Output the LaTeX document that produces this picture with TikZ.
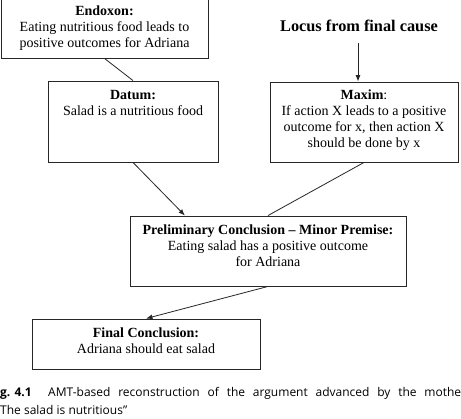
\documentclass[tikz,border=0pt]{standalone}
\usepackage{fontspec}
\setmainfont{Liberation Serif}
\newfontfamily\capfont{Open Sans}
\usetikzlibrary{arrows.meta,calc}
\begin{document}
\begin{tikzpicture}[x=1pt,y=-1pt,
  box/.style={draw=black!85,line width=0.9pt,minimum width=#1,inner sep=0pt},
  txt/.style={align=center,inner sep=0pt,font=\fontsize{14}{16}\selectfont},
  link/.style={draw=black!85,line width=0.8pt},
  arr/.style={link,-{Latex[length=6.5pt,width=5pt]}},
  captext/.style={inner sep=0pt,anchor=base west,font=\capfont\fontsize{12}{14}\selectfont}]
\clip (0,0) rectangle (461,419);
\fill[white] (0,0) rectangle (461,419);
% boxes
\node[box=207pt,minimum height=70pt] (endoxon) at (104.5,23) {};
\node[box=170pt,minimum height=81pt] (datum) at (133,121.5) {};
\node[box=188pt,minimum height=80pt] (maxim) at (364,122) {};
\node[box=276pt,minimum height=70pt] (prelim) at (268,251) {};
\node[box=228pt,minimum height=50pt] (final) at (146,344) {};
% texts
\node[txt] (endoxonT) at (104.5,28) {\textbf{Endoxon:}\\Eating nutritious food leads to\\positive outcomes for Adriana};
\node[txt] (datumT) at (133,103) {\textbf{Datum:}\\Salad is a nutritious food};
\node[txt] (maximT) at (364,120) {\textbf{Maxim}:\\If action X leads to a positive\\outcome for x, then action X\\should be done by x};
\node[txt] (prelimT) at (268,245.5) {\textbf{Preliminary Conclusion -- Minor Premise:}\\Eating salad has a positive outcome\\for Adriana};
\node[txt] (finalT) at (146,340.5) {\textbf{Final Conclusion:}\\Adriana should eat salad};
\node[inner sep=0pt,font=\bfseries\fontsize{16.3}{19}\selectfont] (locus) at (359,26) {Locus from final cause};
% connectors
\coordinate (locusEnd) at (358,43);
\draw[arr] (locusEnd) -- (maxim.north -| locusEnd);
\draw[link] (endoxon.south) -- (datum.north);
\draw[arr] (datum.south) -- ($(prelim.north west)!0.2!(prelim.north east)$);
\draw[link] (maxim.south) -- (prelim.north);
\draw[arr] (prelim.south) -- (final.north);
% caption
\node[captext,font=\capfont\bfseries\fontsize{12}{14}\selectfont] (capnum) at (0,397) {g. 4.1};
\node[captext] (capline1) at (48,397) {\hbox to 413pt{AMT-based\hfill reconstruction\hfill of\hfill the\hfill argument\hfill advanced\hfill by\hfill the\hfill mothe}};
\node[captext] (capline2) at (0,415) {The salad is nutritious”};
\end{tikzpicture}
\end{document}
